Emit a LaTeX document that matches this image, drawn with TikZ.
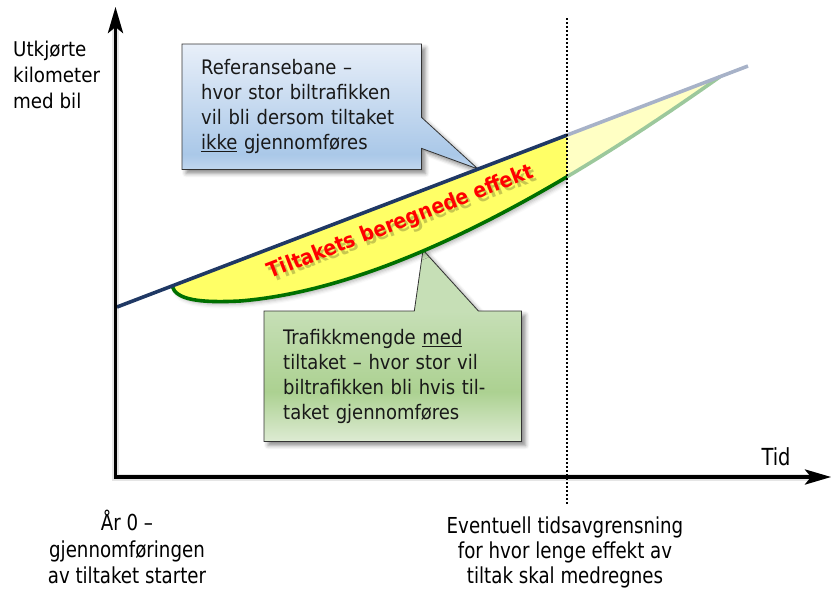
\documentclass[tikz,border=0pt]{standalone}
\usepackage{fontspec}
\setmainfont{DejaVu Sans Condensed}
\newfontfamily\narrowfont[FakeStretch=0.92]{DejaVu Sans Condensed}
\usetikzlibrary{arrows.meta,calc,shadows.blur}

\definecolor{refnavy}{RGB}{31,56,100}
\definecolor{refpale}{RGB}{167,178,200}
\definecolor{effgreen}{RGB}{0,112,0}
\definecolor{effpale}{RGB}{156,200,156}
\definecolor{bandyellow}{RGB}{255,255,102}
\definecolor{bandpale}{RGB}{255,255,196}
\definecolor{blueTop}{RGB}{232,239,249}
\definecolor{blueBot}{RGB}{170,200,232}
\definecolor{blueEdge}{RGB}{192,214,238}
\definecolor{greenTop}{RGB}{198,223,182}
\definecolor{greenMid}{RGB}{172,209,145}
\definecolor{greenBot}{RGB}{221,235,211}
\definecolor{effred}{RGB}{255,0,0}

% vertical fills of the two callouts (25bp = bottom, 75bp = top of the path)
\pgfdeclareverticalshading{refshade}{100bp}{color(0bp)=(blueEdge); color(25bp)=(blueEdge);
  color(31bp)=(blueBot); color(75bp)=(blueTop); color(100bp)=(blueTop)}
\pgfdeclareverticalshading{medshade}{100bp}{color(0bp)=(greenBot); color(25bp)=(greenBot);
  color(38bp)=(greenMid); color(59bp)=(greenTop); color(100bp)=(greenTop)}

\pgfdeclarelayer{boxes}
\pgfsetlayers{boxes,main}

\begin{document}
\begin{tikzpicture}[x=1pt,y=-1pt,
  axisline/.style={line width=3.5pt,
    {Stealth[length=26pt,width=15pt,inset=6pt]}-{Stealth[length=26pt,width=15pt,inset=6pt]}},
  trendline/.style={line width=3.6pt},
  effcurve/.style={insert path={.. controls (176,300) and (200,303) .. (240,301)
      .. controls (400,288) and (585,172) .. (g1)}},
  calltext/.style={inner xsep=19pt, inner ysep=0pt, align=left,
    font=\fontsize{20}{25}\selectfont, text=black!90},
  callout/.style={draw=black!80, line width=0.8pt,
    blur shadow={shadow xshift=4pt, shadow yshift=-4pt, shadow opacity=45, shadow blur radius=4pt}},
  axislabel/.style={font=\fontsize{20.3}{26}\selectfont, align=left, inner sep=0pt},
  footlabel/.style={font=\narrowfont\fontsize{22}{25}\selectfont, align=center, inner sep=0pt},
  effekt/.style={font=\bfseries\fontsize{21}{24}\selectfont, inner sep=0pt},
]
\useasboundingbox (0,0) rectangle (834,590);

% key points
\coordinate (O) at (115.5,477);
\coordinate (ytop) at (115.5,7);
\coordinate (xend) at (831,477);
\coordinate (r0) at (117,307);
\coordinate (rcut) at (567,135.1);
\coordinate (r2) at (748,66);
\coordinate (g0) at (172,286);
\coordinate (g1) at (720,76.7);
\coordinate (reftip) at (478,169);
\coordinate (gtip) at (423,250);
\coordinate (cutT) at (567,18);
\coordinate (cutB) at (567,505);

% the effect band between the two trends
\begin{scope}
  \clip (0,0) rectangle (567,590);
  \path[blur shadow={shadow xshift=3pt, shadow yshift=-3pt, shadow opacity=30, shadow blur radius=4pt}]
    (g0) [effcurve] -- cycle;
  \fill[bandyellow] (g0) [effcurve] -- cycle;
  \draw[trendline, effgreen] (g0) [effcurve];
\end{scope}
\begin{scope}
  \clip (567,0) rectangle (834,590);
  \fill[bandpale] (g0) [effcurve] -- cycle;
  \draw[trendline, effpale] (g0) [effcurve];
\end{scope}
% reference trend
\draw[trendline, refnavy] (r0) -- (rcut);
\draw[trendline, refpale] (rcut) -- (r2);
% time limit
\draw[line width=1.8pt, dash pattern=on 1.8pt off 2.2pt] (cutT) -- (cutB);

% axes with a soft shadow
\draw[axisline, black, opacity=0.10, line width=7pt, shift={(4,4)}] (ytop) -- (O) -- (xend);
\draw[axisline, black, opacity=0.15, shift={(3,3)}] (ytop) -- (O) -- (xend);
\draw[axisline] (ytop) -- (O) -- (xend);

% axis labels
\node[axislabel, anchor=north west] (ylab) at (13,41) {Utkjørte\\kilometer\\med bil};
\node[footlabel, font=\narrowfont\fontsize{23.5}{26}\selectfont] (tid) at (776,457) {Tid};

\node[footlabel, anchor=north] (start) at (127,510)
  {År 0 –\\[2pt]gjennomføringen\\[1pt]av tiltaket starter};
\node[footlabel, anchor=north] (grense) at (565,517)
  {Eventuell tidsavgrensning\\for hvor lenge effekt av\\tiltak skal medregnes};

% effect label
\node[effekt, rotate=21, text=black, opacity=0.22] (effektskygge) at (403.5,226)
  {Tiltakets beregnede effekt};
\node[effekt, rotate=21, text=effred] (effekt) at (401,222.5) {Tiltakets beregnede effekt};

% callout texts
\node[calltext, text width=201pt, minimum width=239pt, minimum height=125pt, anchor=north west]
  (refbox) at (182,44)
  {Referansebane –\\hvor stor biltrafikken\\vil bli dersom tiltaket\\\underline{ikke} gjennomføres};
\node[calltext, text width=219pt, minimum width=257pt, minimum height=130pt, anchor=north west]
  (medbox) at (264,311)
  {Trafikkmengde \underline{med}\\tiltaket – hvor stor vil\\biltrafikken bli hvis til-\\taket gjennomføres};

% callout frames
\begin{pgfonlayer}{boxes}
  \path[callout, shading=refshade]
    (refbox.north west) -- (refbox.north east)
    -- ($(refbox.north east)!0.584!(refbox.south east)$) -- (reftip)
    -- ($(refbox.north east)!0.832!(refbox.south east)$)
    -- (refbox.south east) -- (refbox.south west) -- cycle;
  \path[callout, shading=medshade]
    (medbox.north west) -- ($(medbox.north west)!0.584!(medbox.north east)$) -- (gtip)
    -- ($(medbox.north west)!0.833!(medbox.north east)$)
    -- (medbox.north east) -- (medbox.south east) -- (medbox.south west) -- cycle;
\end{pgfonlayer}
\end{tikzpicture}
\end{document}
